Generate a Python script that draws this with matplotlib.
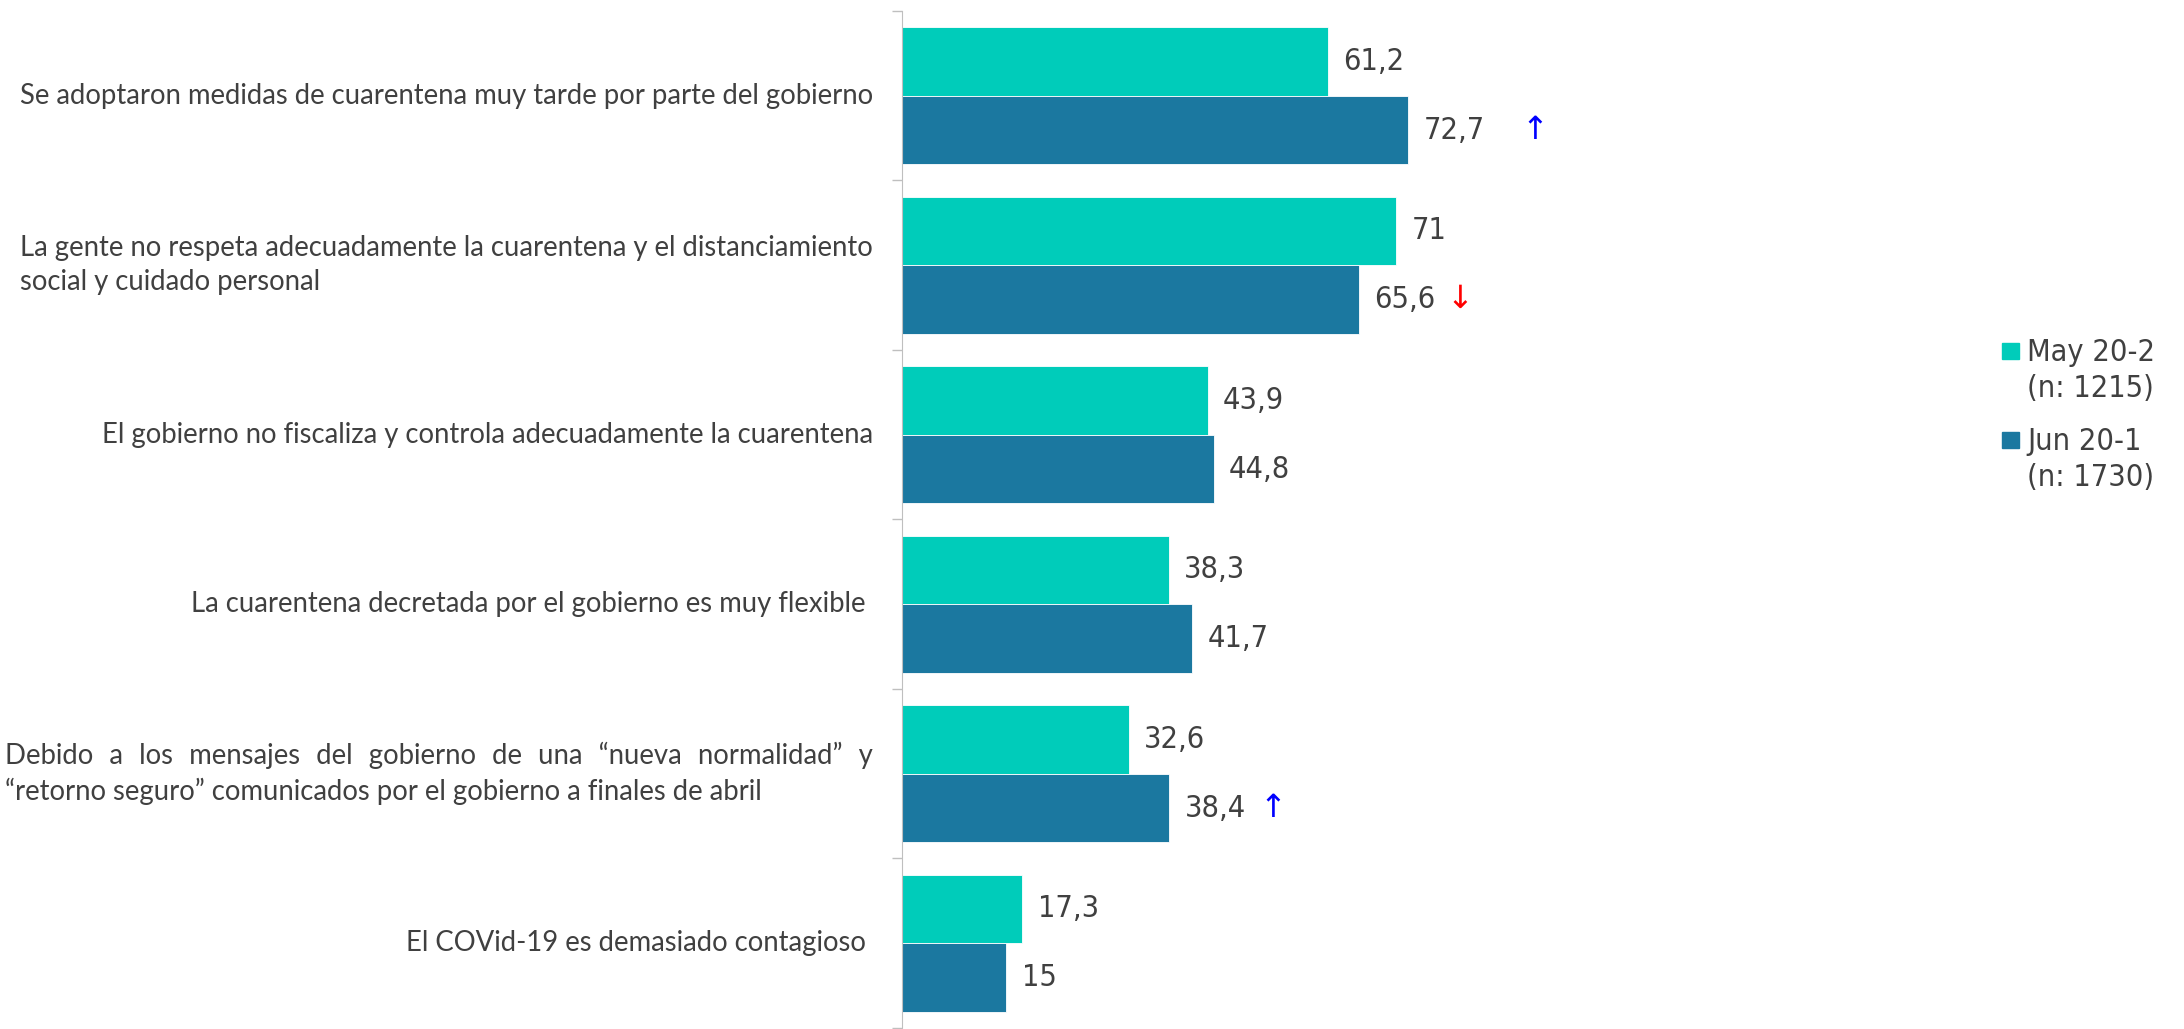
import matplotlib.pyplot as plt
from matplotlib.patches import Rectangle

categories = [
    "Se adoptaron medidas de cuarentena muy tarde por parte del gobierno",
    "La gente no respeta adecuadamente la cuarentena y el distanciamiento\nsocial y cuidado personal",
    "El gobierno no fiscaliza y controla adecuadamente la cuarentena",
    "La cuarentena decretada por el gobierno es muy flexible ",
    "Debido a los mensajes del gobierno de una \u201cnueva normalidad\u201d y\n\u201cretorno seguro\u201d comunicados por el gobierno a finales de abril",
    "El COVid-19 es demasiado contagioso ",
]
may_20 = [61.2, 71, 43.9, 38.3, 32.6, 17.3]
jun_20 = [72.7, 65.6, 44.8, 41.7, 38.4, 15]
series_names = ["May 20-2\n(n: 1215)", "Jun 20-1\n(n: 1730)"]
# significant changes vs previous wave: (category index, symbol, colour)
changes = [(0, "\u2191", "#0000FF"), (1, "\u2193", "#FF0000"), (4, "\u2191", "#0000FF")]

c_may = "#00CCBA"
c_jun = "#1B78A0"
txt = "#404040"
lab_font = ["Lato", "DejaVu Sans"]
num_font = "DejaVu Sans"

# the 5th label is justified in the original: widen its first line
labels = list(categories)
l1, l2 = labels[4].split("\n")
labels[4] = l1.replace(" ", " \u2004") + "\n" + l2

fig = plt.figure(figsize=(21.84, 10.29), dpi=100)
ax = fig.add_axes([902 / 2184, 1 / 1029, 696 / 2184, 1017 / 1029])

h = 0.405
ys = range(len(categories))
for i in ys:
    ax.barh(i - h / 2, may_20[i], height=h, color=c_may, edgecolor="white", linewidth=0.6)
    ax.barh(i + h / 2, jun_20[i], height=h, color=c_jun, edgecolor="white", linewidth=0.6)

def fmt(v):
    return f"{v:g}".replace(".", ",")

for i in ys:
    for v, y in ((may_20[i], i - h / 2), (jun_20[i], i + h / 2)):
        ax.annotate(fmt(v), (v, y), xytext=(11, 0), textcoords="offset points",
                    va="center", ha="left", fontsize=22, color=txt,
                    family=num_font, fontstretch="condensed")

arrow_gap = {0: 82, 1: 63, 4: 65}
for i, sym, col in changes:
    ax.annotate(sym, (jun_20[i], i + h / 2), xytext=(arrow_gap[i], 0),
                textcoords="offset points", va="center", ha="left",
                fontsize=23, color=col, family="DejaVu Sans")

ax.set_xlim(0, 100)
ax.set_ylim(len(categories) - 0.5, -0.5)
ax.set_yticks(list(ys))
ax.set_yticklabels(labels, fontsize=19.8, color=txt, family=lab_font,
                   multialignment="left", linespacing=1.4)
for lbl in ax.get_yticklabels():
    lbl.set_verticalalignment("center")
ax.tick_params(axis="y", which="major", length=0, pad=21)
ax.set_yticks([k - 0.5 for k in range(len(categories) + 1)], minor=True)
ax.tick_params(axis="y", which="minor", length=7, color="#BFBFBF", width=1)
ax.set_xticks([])
for s in ["top", "right", "bottom"]:
    ax.spines[s].set_visible(False)
ax.spines["left"].set_color("#BFBFBF")

# legend
for name, col, yc in zip(series_names, [c_may, c_jun], [351, 440]):
    fig.patches.append(Rectangle((2002 / 2184, 1 - (yc + 8) / 1029), 17 / 2184, 16 / 1029,
                                 transform=fig.transFigure, color=col))
    fig.text(2027 / 2184, 1 - (yc - 13) / 1029, name, va="top", ha="left", fontsize=22,
             color=txt, family=num_font, fontstretch="condensed", linespacing=1.3)

fig.savefig("out.png", dpi=100)
